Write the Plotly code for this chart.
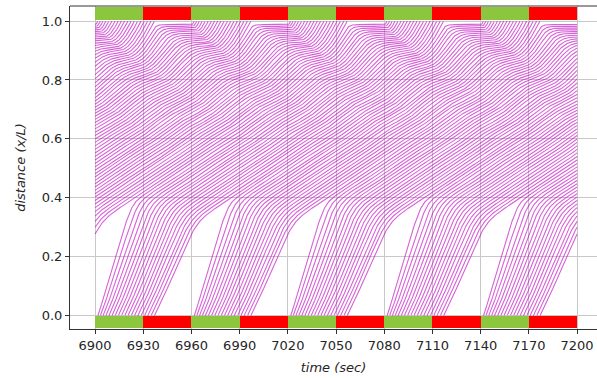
import numpy as np
import plotly.graph_objects as go

# ---------------- signal plan at the stop line (x/L = 1 = 0) ----------------
phase_start = [6900, 6930, 6960, 6990, 7020, 7050, 7080, 7110, 7140, 7170]
phase_len = [30, 30, 30, 30, 30, 30, 30, 30, 30, 30]
phase_state = ["green", "red", "green", "red", "green", "red", "green", "red", "green", "red"]
green_time = 30.0
red_time = 30.0

# ---------------- ring road and car-following (IDM) parameters ----------------
road_length = 1000.0      # m
n_vehicles = 64
desired_speed = 19.0      # m/s
max_accel = 8.0           # m/s^2
comfort_decel = 3.0       # m/s^2
critical_decel = 5.0      # m/s^2
commit_speed = 8.0        # m/s, drivers already pulling away keep going at red
commit_dist = 200.0       # m
time_headway = 1.5        # s
min_gap = 2.0             # m
veh_length = 4.0          # m
stop_setback = 10.0       # m, queue head waits this far behind x/L = 1

t_start, t_end = 6900.0, 7200.0
dt = 0.05
record_every = 4

# axis tick values
x_ticks = [6900, 6930, 6960, 6990, 7020, 7050, 7080, 7110, 7140, 7170, 7200]
y_ticks = [0.0, 0.2, 0.4, 0.6, 0.8, 1.0]

# ---------------- simulate the ring road ----------------
L = road_length
cycle = green_time + red_time
n = n_vehicles
x = (np.arange(n)[::-1] * (L / n)).astype(float)   # vehicle 0 leads
v = np.zeros(n)
sq = 2.0 * np.sqrt(max_accel * comfort_decel)
committed = np.zeros(n, dtype=bool)
was_red = False

n_steps = int(round(t_end / dt))
first_rec = int(round(t_start / dt))
rec_t, rec_x = [], []

for k in range(n_steps + 1):
    t = k * dt
    if k >= first_rec and (k - first_rec) % record_every == 0:
        rec_t.append(t)
        rec_x.append(x.copy())
    if k == n_steps:
        break
    lead_x = np.roll(x, 1)
    lead_x[0] += L
    lead_v = np.roll(v, 1)
    gap = np.maximum(lead_x - x - veh_length, 0.1)
    s_star = min_gap + np.maximum(0.0, v * time_headway + v * (v - lead_v) / sq)
    acc = max_accel * (1.0 - (v / desired_speed) ** 4 - (s_star / gap) ** 2)
    is_red = ((k * dt) % cycle) >= green_time - 1e-9
    if is_red:
        line = (np.floor(x / L) + 1.0) * L
        d = line - x
        if not was_red:
            committed = (((v >= commit_speed) & (d < commit_dist))
                         | (d - stop_setback <= v * v / (2.0 * critical_decel)))
        obey = ~committed
        s_sig = np.maximum(d - stop_setback, 0.1)
        s_star_sig = min_gap + np.maximum(0.0, v * time_headway + v * v / sq)
        acc_sig = max_accel * (1.0 - (v / desired_speed) ** 4 - (s_star_sig / s_sig) ** 2)
        acc = np.where(obey, np.minimum(acc, acc_sig), acc)
    was_red = is_red
    acc = np.maximum(acc, -9.0)
    v_new = np.maximum(v + acc * dt, 0.0)
    x = x + 0.5 * (v + v_new) * dt
    v = v_new

rec_t = np.array(rec_t)
rec_x = np.array(rec_x)          # (time, vehicle)

# ---------------- trajectories as x/L, broken at each pass of the stop line ----------------
xs_all, ys_all = [], []
for i in range(n):
    pos = rec_x[:, i]
    lap = np.floor(pos / L)
    rel = pos / L - lap
    for j in range(len(rec_t)):
        if j > 0 and lap[j] != lap[j - 1]:
            xs_all.append(None)
            ys_all.append(None)
        xs_all.append(float(rec_t[j]))
        ys_all.append(float(rel[j]))
    xs_all.append(None)
    ys_all.append(None)

fig = go.Figure()

fig.add_trace(go.Scatter(
    x=xs_all, y=ys_all, mode="lines",
    line=dict(color="rgba(191,0,191,0.62)", width=1.1),
    hoverinfo="skip", showlegend=False,
))

# signal state bars above x/L = 1 and below x/L = 0
bar_colors = ["#8cc63f" if s == "green" else "#ff0000" for s in phase_state]
for base, height in [(1.005, 0.041), (-0.042, 0.042)]:
    fig.add_trace(go.Bar(
        x=phase_start, y=[height] * len(phase_start), base=base,
        width=phase_len, offset=0, marker=dict(color=bar_colors, line=dict(width=0)),
        hoverinfo="skip", showlegend=False,
    ))

tick_font = dict(family="DejaVu Sans", size=13, color="#262626")
title_font = dict(family="DejaVu Sans", size=13, color="#262626")
fig.update_layout(
    width=597, height=378,
    margin=dict(l=70, r=0, t=6, b=49),
    paper_bgcolor="white", plot_bgcolor="white",
    bargap=0, barmode="overlay",
    xaxis=dict(
        range=[6884.4, 7212.4], tickvals=x_ticks, ticktext=[str(t) for t in x_ticks],
        showgrid=True, gridcolor="#c8c8c8", gridwidth=1,
        showline=True, linecolor="#333333", linewidth=1, mirror=False,
        ticks="outside", ticklen=4, tickcolor="#333333", tickfont=tick_font,
        zeroline=False,
        title=dict(text="<i>time (sec)</i>", font=title_font, standoff=11),
    ),
    yaxis=dict(
        range=[-0.045, 1.051], tickvals=y_ticks, ticktext=[f"{t:.1f}" for t in y_ticks],
        showgrid=True, gridcolor="#c8c8c8", gridwidth=1,
        showline=True, linecolor="#333333", linewidth=1,
        ticks="outside", ticklen=4, tickcolor="#333333", tickfont=tick_font,
        zeroline=False,
        title=dict(text="<i>distance (x/L)</i>", font=title_font, standoff=13),
    ),
)
# top frame line
fig.add_shape(type="line", xref="paper", yref="paper", x0=0, x1=1, y0=1, y1=1,
              line=dict(color="#333333", width=1))

fig.write_html("out.html")
